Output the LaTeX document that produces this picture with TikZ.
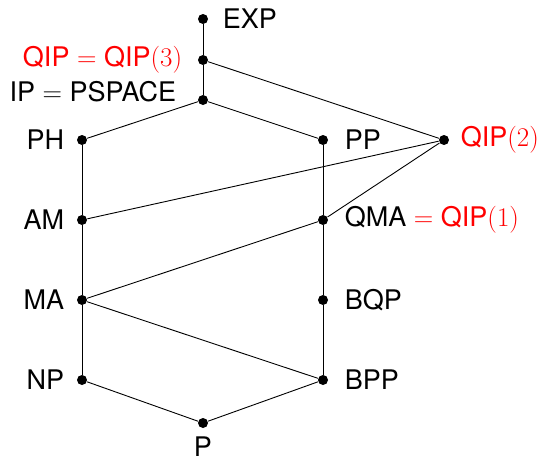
\documentclass[tikz,border=0pt]{standalone}
\usepackage{fontspec}
\setmainfont{TeX Gyre Heros}
\newfontfamily\lmr{Latin Modern Roman}
\newcommand\myeq{\hspace{0.28em}{\lmr =}\hspace{0.28em}}
\newcommand\mypar[1]{{\lmr(#1)}}
\begin{document}
\begin{tikzpicture}[x=1pt,y=-1pt,
  dot/.style={circle,fill=black,inner sep=0pt,minimum size=10pt},
  every label/.style={font=\fontsize{27}{30}\selectfont,inner sep=0pt},
  qc/.style={red},
  every path/.style={line width=0.9pt}]
\useasboundingbox (0,0) rectangle (543,463);
\node[dot,label={[anchor=west,xshift=14pt]right:EXP}] (exp) at (203,19) {};
\node[dot,label={[anchor=east,xshift=-15pt,qc]left:QIP\myeq QIP\mypar{3}}] (qip3) at (203,60) {};
\node[dot,label={[anchor=east,xshift=-21pt,yshift=8pt]left:IP\myeq PSPACE}] (ip) at (203,100) {};
\node[dot,label={[anchor=east,xshift=-12pt]left:PH}] (ph) at (82,140) {};
\node[dot,label={[anchor=east,xshift=-12pt]left:AM}] (am) at (82,220) {};
\node[dot,label={[anchor=east,xshift=-12pt]left:MA}] (ma) at (82,300) {};
\node[dot,label={[anchor=east,xshift=-12pt]left:NP}] (np) at (82,380) {};
\node[dot,label={[anchor=west,xshift=16pt]right:PP}] (pp) at (323,140) {};
\node[dot,label={[anchor=west,xshift=16pt]right:QMA{\color{red}\myeq QIP\mypar{1}}}] (qma) at (323,220) {};
\node[dot,label={[anchor=west,xshift=16pt]right:BQP}] (bqp) at (323,300) {};
\node[dot,label={[anchor=west,xshift=16pt]right:BPP}] (bpp) at (323,380) {};
\node[dot,label={[anchor=west,xshift=11pt,qc]right:QIP\mypar{2}}] (qip2) at (444,140) {};
\node[dot,label={[anchor=north,yshift=-8pt]below:P}] (p) at (203,423) {};
\draw (exp) -- (qip3) -- (ip);
\draw (qip3) -- (qip2);
\draw (ip) -- (ph);
\draw (ip) -- (pp);
\draw (ph) -- (am) -- (ma) -- (np);
\draw (pp) -- (qma) -- (bqp) -- (bpp);
\draw (qip2) -- (am);
\draw (qip2) -- (qma);
\draw (qma) -- (ma);
\draw (ma) -- (bpp);
\draw (np) -- (p) -- (bpp);
\end{tikzpicture}
\end{document}
